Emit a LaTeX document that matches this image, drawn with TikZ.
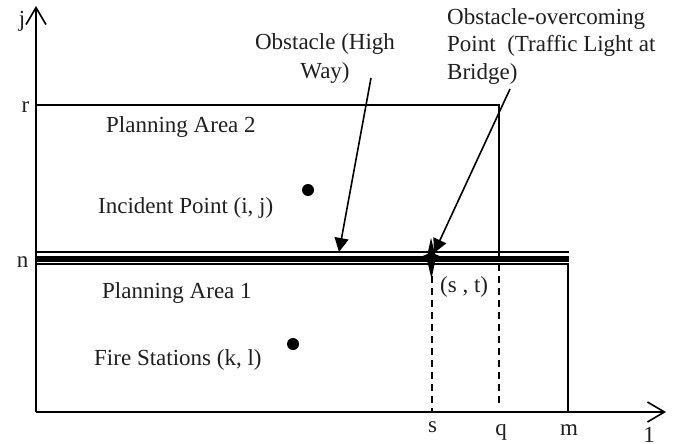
\documentclass[tikz,border=0pt]{standalone}
\usepackage{fontspec}
\setmainfont{Liberation Serif}
\usetikzlibrary{arrows.meta}
\tikzset{
  x=1pt,y=-1pt,
  lab/.style={inner sep=0pt,font=\fontsize{23}{27.5}\selectfont,text=black!88},
  ln/.style={line width=1.6pt,black},
  dsh/.style={line width=1.6pt,black,dash pattern=on 7pt off 5pt},
  open/.style={-{Straight Barb[length=17pt,width=20pt,line width=1.6pt]}},
  solidarrow/.style={line width=1.6pt,-{Triangle[length=14pt,width=14pt]}},
  dot/.style={circle,fill=black,draw=none,minimum size=12pt,inner sep=0pt}
}
\begin{document}
\begin{tikzpicture}
\useasboundingbox (0,0) rectangle (677,444);
% frame coordinates
\coordinate (O) at (36,412);
\coordinate (ytop) at (36,6);
\coordinate (xend) at (666,412);
\coordinate (rL) at (36,105);
\coordinate (rR) at (499,105);
\coordinate (qU) at (499,252);
\coordinate (qD) at (499,403);
\coordinate (mU) at (568,264);
\coordinate (mD) at (568,412);
\coordinate (sU) at (432,276);
\coordinate (sD) at (432,412);
\coordinate (a1) at (36,252);
\coordinate (a2) at (569,252);
\coordinate (b1) at (36,258.5);
\coordinate (b2) at (569,258.5);
\coordinate (c1) at (36,264);
\coordinate (c2) at (569,264);
% axes
\draw[ln,open] (O) -- (ytop);
\draw[ln,open] (O) -- (xend);
% planning areas
\draw[ln] (rL) -- (rR) -- (qU);
\draw[ln] (mU) -- (mD);
\draw[dsh] (qU) -- (qD);
\draw[dsh] (sU) -- (sD);
% obstacle band
\draw[ln] (a1) -- (a2);
\draw[line width=6pt] (b1) -- (b2);
\draw[ln] (c1) -- (c2);
% crossing marker
\fill[black] (431,238) -- (435,254) -- (444,258) -- (435,262) -- (431.5,279) -- (427.5,262) -- (418,258) -- (427.5,254) -- cycle;
% labels
\node[lab,anchor=base] (lj) at (22,27) {j};
\node[lab,anchor=base] (lr) at (25.5,112) {r};
\node[lab,anchor=base] (ln) at (22.5,267) {n};
\node[lab,anchor=base] (ls) at (432.5,432) {s};
\node[lab,anchor=base] (lq) at (501,435) {q};
\node[lab,anchor=base] (lm) at (569,435) {m};
\node[lab,anchor=base] (li) at (649,442) {1};
\node[lab,anchor=base west] (pa2) at (106,132) {Planning Area 2};
\node[lab,anchor=base west] (ip) at (98,213) {Incident Point (i, j)};
\node[lab,anchor=base west] (pa1) at (102,298) {Planning Area 1};
\node[lab,anchor=base west] (fs) at (94,365) {Fire Stations (k, l)};
\node[lab,anchor=base west] (stl) at (440,292) {(s , t)};
\node[lab,anchor=base] (obs1) at (325,49) {Obstacle (High};
\node[lab,anchor=base] (obs2) at (325,78) {Way)};
\node[lab,anchor=base west] (oo1) at (447,25) {Obstacle-overcoming};
\node[lab,anchor=base west] (oo2) at (447,52) {Point\ \ (Traffic Light at};
\node[lab,anchor=base west] (oo3) at (447,80) {Bridge)};
% dots
\node[dot] (inc) at (308,190) {};
\node[dot] (fire) at (293,344) {};
% arrows
\coordinate (obsStart) at (371,78);
\coordinate (obsEnd) at (339,252);
\coordinate (stStart) at (510,89);
\coordinate (stEnd) at (434,253);
\draw[solidarrow] (obsStart) -- (obsEnd);
\draw[solidarrow] (stStart) -- (stEnd);
\end{tikzpicture}
\end{document}
